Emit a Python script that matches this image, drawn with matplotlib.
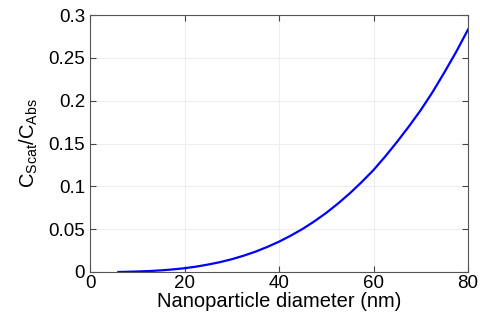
import matplotlib.pyplot as plt

plt.rcParams['font.family'] = ['Liberation Sans', 'DejaVu Sans']
plt.rcParams['mathtext.fontset'] = 'custom'
plt.rcParams['mathtext.rm'] = 'Liberation Sans'
plt.rcParams['mathtext.it'] = 'Liberation Sans'

# values
diameter = [6, 7.5, 10, 12.5, 15, 17.5, 20, 22.5, 25, 27.5, 30, 32.5, 35,
            37.5, 40, 42.5, 45, 47.5, 50, 52.5, 55, 57.5, 60, 62.5, 65,
            67.5, 70, 72.5, 75, 77.5, 80]
ratio = [0.0, 0.0002, 0.0006, 0.0011, 0.0019, 0.003, 0.0044, 0.0063,
         0.0087, 0.0115, 0.0149, 0.019, 0.0237, 0.0292, 0.0354, 0.0425,
         0.0503, 0.0592, 0.069, 0.080, 0.0919, 0.105, 0.119, 0.135, 0.152,
         0.170, 0.189, 0.210, 0.233, 0.257, 0.283]

fig = plt.figure(figsize=(4.8, 3.21), dpi=100)
ax = fig.add_axes([90 / 480, 1 - 272 / 321, 378 / 480, 257 / 321])

ax.plot(diameter, ratio, color='#0000ff', lw=1.6)

ax.set_xlim(0, 80)
ax.set_ylim(0, 0.3)
ax.set_xticks([0, 20, 40, 60, 80])
ax.set_yticks([0, 0.05, 0.1, 0.15, 0.2, 0.25, 0.3])
ax.set_yticklabels(['0', '0.05', '0.1', '0.15', '0.2', '0.25', '0.3'])
ax.grid(True, color='#ededed', lw=0.8)
ax.tick_params(direction='in', top=True, right=True, labelsize=13.5,
               length=4, color='#444444')
ax.tick_params(axis='x', pad=2)
ax.tick_params(axis='y', pad=3.5)
for s in ax.spines.values():
    s.set_color('#555555')
    s.set_linewidth(0.8)

ax.set_xlabel('Nanoparticle diameter (nm)', fontsize=14.5, labelpad=0)
ax.set_ylabel(r'C$_{\mathrm{Scat}}$/C$_{\mathrm{Abs}}$', fontsize=14.5, labelpad=6)

fig.savefig('out.png', dpi=100)
